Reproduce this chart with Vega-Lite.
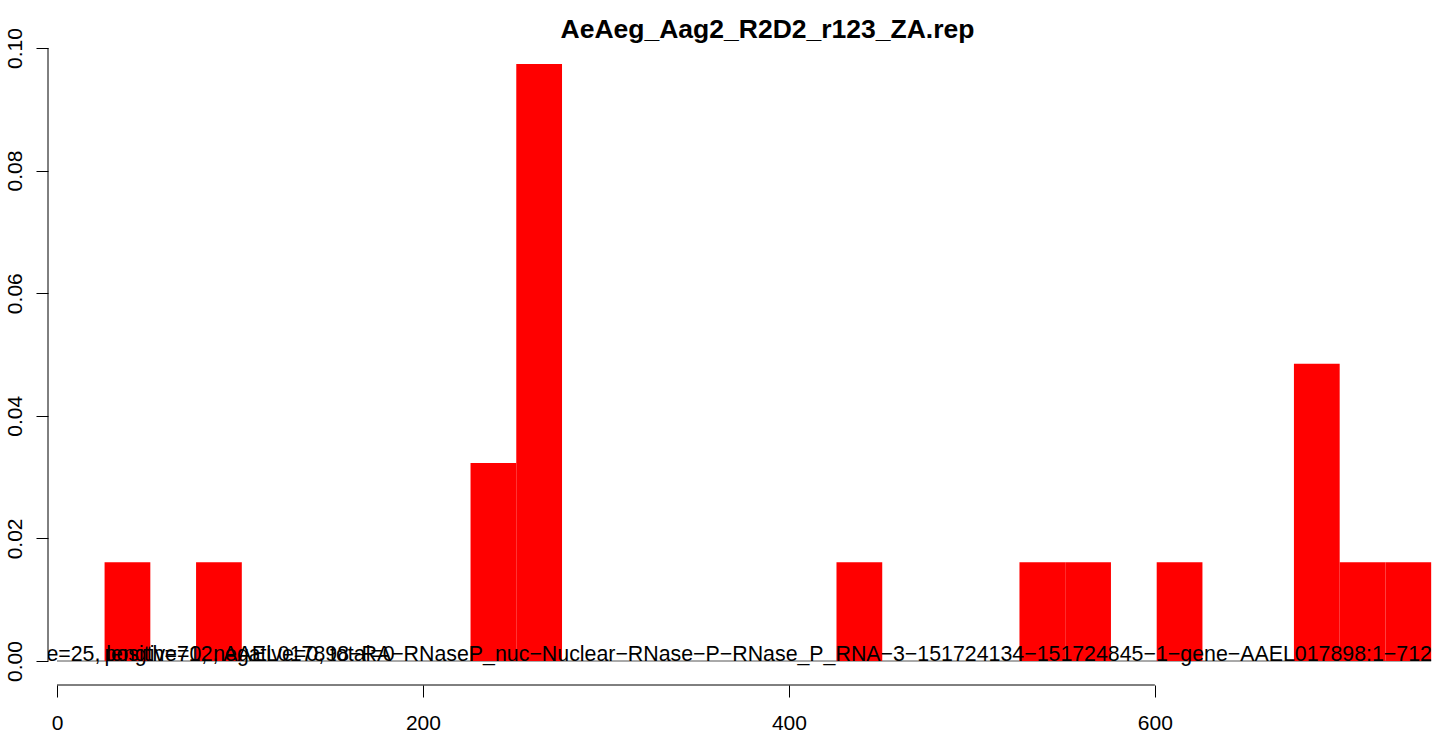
{
  "$schema": "https://vega.github.io/schema/vega-lite/v6.json",
  "width": 1385,
  "height": 661,
  "autosize": {"type": "none"},
  "padding": {"left": 48, "top": 24, "right": 6, "bottom": 51},
  "background": "white",
  "config": {"view": {"stroke": null}, "font": "Liberation Sans"},
  "title": {
    "text": "AeAeg_Aag2_R2D2_r123_ZA.rep",
    "font": "Liberation Sans",
    "fontSize": 26.5,
    "fontWeight": "bold",
    "color": "black",
    "anchor": "middle",
    "frame": "group",
    "baseline": "alphabetic",
    "offset": -13,
    "dx": 27,
    "dy": 27
  },
  "layer": [
    {
      "data": {"values": [{"label": "baseline"}]},
      "mark": {"type": "rule", "color": "#555555", "strokeWidth": 1},
      "encoding": {
        "x": {"datum": 0, "type": "quantitative"},
        "x2": {"datum": 751},
        "y": {"datum": 0, "type": "quantitative"}
      }
    },
    {
      "data": {
        "values": [
          {"start": 26, "end": 51, "density": 0.0161},
          {"start": 76, "end": 101, "density": 0.0161},
          {"start": 226, "end": 251, "density": 0.0323},
          {"start": 251, "end": 276, "density": 0.0974},
          {"start": 426, "end": 451, "density": 0.0161},
          {"start": 526, "end": 551, "density": 0.0161},
          {"start": 551, "end": 576, "density": 0.0161},
          {"start": 601, "end": 626, "density": 0.0161},
          {"start": 676, "end": 701, "density": 0.0485},
          {"start": 701, "end": 726, "density": 0.0161},
          {"start": 726, "end": 751, "density": 0.0161}
        ]
      },
      "mark": {"type": "rect", "color": "#ff0000"},
      "encoding": {
        "x": {
          "field": "start",
          "type": "quantitative",
          "scale": {"domain": [-4.92, 752], "nice": false, "zero": false},
          "axis": {
            "values": [0, 200, 400, 600],
            "format": "d",
            "domain": false,
            "grid": false,
            "ticks": true,
            "tickSize": 12,
            "tickColor": "black",
            "tickWidth": 1,
            "labelFont": "Liberation Sans",
            "labelFontSize": 21,
            "labelColor": "black",
            "labelPadding": 32,
            "labelBaseline": "alphabetic",
            "labelFlush": false,
            "labelOverlap": false,
            "title": null
          }
        },
        "x2": {"field": "end"},
        "y": {
          "field": "density",
          "type": "quantitative",
          "scale": {"domain": [-0.003915, 0.103915], "nice": false, "zero": false},
          "axis": {
            "values": [0, 0.02, 0.04, 0.06, 0.08, 0.1],
            "format": ".2f",
            "domain": false,
            "grid": false,
            "ticks": true,
            "tickSize": 12,
            "tickColor": "black",
            "tickWidth": 1,
            "labelAngle": -90,
            "labelAlign": "center",
            "labelBaseline": "alphabetic",
            "labelPadding": 15,
            "labelFont": "Liberation Sans",
            "labelFontSize": 21,
            "labelColor": "black",
            "labelFlush": false,
            "labelOverlap": false,
            "title": null
          }
        },
        "y2": {"datum": 0}
      }
    },
    {
      "data": {"values": [{"label": "y axis line"}]},
      "mark": {"type": "rule", "color": "black", "strokeWidth": 1},
      "encoding": {
        "x": {"datum": -4.92, "type": "quantitative"},
        "y": {"datum": 0, "type": "quantitative"},
        "y2": {"datum": 0.1}
      }
    },
    {
      "data": {"values": [{"label": "x axis line"}]},
      "mark": {"type": "rule", "color": "black", "strokeWidth": 1},
      "encoding": {
        "x": {"datum": 0, "type": "quantitative"},
        "x2": {"datum": 600},
        "y": {"datum": -0.003915, "type": "quantitative"}
      }
    },
    {
      "data": {"values": [{"label": "binsize=25, length=712, AAEL017898\u2212RA\u2212RNaseP_nuc\u2212Nuclear\u2212RNase\u2212P\u2212RNase_P_RNA\u22123\u2212151724134\u2212151724845\u22121\u2212gene\u2212AAEL017898:1\u2212712"}]},
      "mark": {
        "type": "text",
        "align": "right",
        "baseline": "alphabetic",
        "font": "Liberation Sans",
        "fontSize": 21.35,
        "color": "black",
        "clip": true
      },
      "encoding": {
        "text": {"field": "label"},
        "x": {"datum": 751.4, "type": "quantitative"},
        "y": {"datum": 0, "type": "quantitative"}
      }
    },
    {
      "data": {"values": [{"label": "positive=0, negative=0, total=0"}]},
      "mark": {
        "type": "text",
        "align": "left",
        "baseline": "alphabetic",
        "font": "Liberation Sans",
        "fontSize": 21.35,
        "color": "black",
        "clip": true
      },
      "encoding": {
        "text": {"field": "label"},
        "x": {"datum": 26, "type": "quantitative"},
        "y": {"datum": 0, "type": "quantitative"}
      }
    }
  ]
}
